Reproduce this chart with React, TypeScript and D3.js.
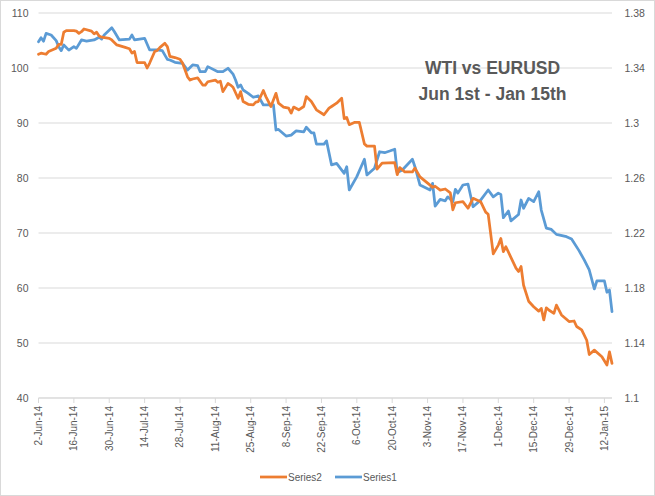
import * as d3 from 'd3';
import { useEffect, useRef } from 'react';

// WTI crude (left axis)
const wti: [string, number][] = [
  ['2014-06-02', 102.5], ['2014-06-03', 102.7], ['2014-06-05', 102.5], ['2014-06-06', 103.0],
  ['2014-06-09', 103.6], ['2014-06-10', 104.3], ['2014-06-11', 104.3], ['2014-06-12', 106.5],
  ['2014-06-13', 106.8], ['2014-06-16', 106.8], ['2014-06-17', 106.7], ['2014-06-18', 106.3],
  ['2014-06-19', 106.6], ['2014-06-20', 107.1], ['2014-06-23', 106.7], ['2014-06-24', 106.2],
  ['2014-06-25', 106.5], ['2014-06-26', 105.8], ['2014-06-27', 105.6], ['2014-06-30', 105.4],
  ['2014-07-01', 105.1], ['2014-07-03', 104.2], ['2014-07-06', 103.8], ['2014-07-08', 103.5],
  ['2014-07-09', 102.7], ['2014-07-10', 103.0], ['2014-07-11', 101.0], ['2014-07-14', 101.0],
  ['2014-07-15', 100.0], ['2014-07-16', 100.9], ['2014-07-18', 103.0], ['2014-07-19', 103.2],
  ['2014-07-20', 103.7], ['2014-07-22', 104.5], ['2014-07-23', 103.9], ['2014-07-24', 102.1],
  ['2014-07-26', 101.9], ['2014-07-28', 101.6], ['2014-07-29', 100.9], ['2014-07-31', 98.4],
  ['2014-08-01', 97.8], ['2014-08-02', 98.0], ['2014-08-04', 98.2], ['2014-08-06', 96.9],
  ['2014-08-07', 96.9], ['2014-08-08', 97.5], ['2014-08-11', 97.8], ['2014-08-12', 97.4],
  ['2014-08-13', 97.6], ['2014-08-14', 95.7], ['2014-08-16', 97.2], ['2014-08-17', 96.9],
  ['2014-08-18', 96.5], ['2014-08-20', 94.5], ['2014-08-21', 95.7], ['2014-08-22', 93.9],
  ['2014-08-24', 93.4], ['2014-08-26', 93.3], ['2014-08-27', 93.8], ['2014-08-28', 93.9],
  ['2014-08-30', 95.9], ['2014-08-31', 94.8], ['2014-09-02', 93.0], ['2014-09-04', 95.4],
  ['2014-09-05', 93.6], ['2014-09-07', 92.9], ['2014-09-09', 92.7], ['2014-09-10', 91.8],
  ['2014-09-11', 92.9], ['2014-09-13', 92.4], ['2014-09-15', 93.0], ['2014-09-16', 94.8],
  ['2014-09-18', 93.9], ['2014-09-20', 92.4], ['2014-09-23', 91.5], ['2014-09-25', 92.7],
  ['2014-09-26', 93.0], ['2014-09-28', 93.6], ['2014-09-30', 94.5], ['2014-10-01', 90.8],
  ['2014-10-02', 91.0], ['2014-10-03', 89.7], ['2014-10-05', 90.1], ['2014-10-07', 90.1],
  ['2014-10-09', 86.2], ['2014-10-10', 85.8], ['2014-10-13', 85.8], ['2014-10-14', 81.6],
  ['2014-10-16', 82.7], ['2014-10-21', 82.8], ['2014-10-22', 80.6], ['2014-10-23', 81.9],
  ['2014-10-25', 81.1], ['2014-10-28', 81.1], ['2014-10-29', 81.8], ['2014-10-31', 80.2],
  ['2014-11-04', 78.7], ['2014-11-05', 78.3], ['2014-11-06', 78.5], ['2014-11-08', 77.8],
  ['2014-11-10', 78.0], ['2014-11-12', 77.3], ['2014-11-13', 74.2], ['2014-11-14', 75.5],
  ['2014-11-17', 75.7], ['2014-11-19', 74.5], ['2014-11-21', 76.3], ['2014-11-24', 75.7],
  ['2014-11-26', 73.8], ['2014-11-27', 73.4], ['2014-11-29', 66.2], ['2014-12-01', 67.8],
  ['2014-12-02', 69.0], ['2014-12-03', 66.6], ['2014-12-04', 67.5], ['2014-12-08', 63.6],
  ['2014-12-09', 63.0], ['2014-12-10', 63.9], ['2014-12-11', 60.5], ['2014-12-13', 57.6],
  ['2014-12-15', 56.6], ['2014-12-17', 55.8], ['2014-12-18', 56.3], ['2014-12-19', 54.2],
  ['2014-12-20', 56.4], ['2014-12-21', 56.0], ['2014-12-23', 55.4], ['2014-12-24', 56.9],
  ['2014-12-26', 55.1], ['2014-12-29', 53.9], ['2014-12-31', 54.0], ['2015-01-01', 53.0],
  ['2015-01-03', 52.4], ['2015-01-05', 50.5], ['2015-01-06', 47.9], ['2015-01-08', 48.7],
  ['2015-01-11', 47.5], ['2015-01-13', 46.0], ['2015-01-14', 48.4], ['2015-01-15', 46.3],
];

// EURUSD (right axis)
const eurusd: [string, number][] = [
  ['2014-06-02', 1.3591], ['2014-06-03', 1.362], ['2014-06-04', 1.3595], ['2014-06-05', 1.3652],
  ['2014-06-07', 1.364], ['2014-06-09', 1.3599], ['2014-06-10', 1.3555], ['2014-06-11', 1.3526],
  ['2014-06-12', 1.3567], ['2014-06-14', 1.353], ['2014-06-16', 1.3555], ['2014-06-17', 1.3543],
  ['2014-06-19', 1.3604], ['2014-06-21', 1.3595], ['2014-06-24', 1.3604], ['2014-06-26', 1.3624],
  ['2014-06-27', 1.361], ['2014-06-28', 1.364], ['2014-07-01', 1.3693], ['2014-07-02', 1.3665],
  ['2014-07-04', 1.3604], ['2014-07-08', 1.361], ['2014-07-09', 1.364], ['2014-07-10', 1.3604],
  ['2014-07-14', 1.3616], ['2014-07-16', 1.3531], ['2014-07-19', 1.3531], ['2014-07-21', 1.3526],
  ['2014-07-23', 1.3463], ['2014-07-24', 1.3458], ['2014-07-26', 1.3441], ['2014-07-29', 1.3434],
  ['2014-07-31', 1.3385], ['2014-08-02', 1.3422], ['2014-08-04', 1.3417], ['2014-08-05', 1.3373],
  ['2014-08-07', 1.3373], ['2014-08-08', 1.341], ['2014-08-12', 1.3373], ['2014-08-14', 1.3373],
  ['2014-08-16', 1.3398], ['2014-08-18', 1.3356], ['2014-08-19', 1.3313], ['2014-08-20', 1.326],
  ['2014-08-21', 1.3277], ['2014-08-22', 1.324], ['2014-08-24', 1.3216], ['2014-08-26', 1.3187],
  ['2014-08-28', 1.3197], ['2014-08-30', 1.3131], ['2014-09-03', 1.3131], ['2014-09-04', 1.2949],
  ['2014-09-05', 1.2953], ['2014-09-08', 1.2905], ['2014-09-10', 1.2912], ['2014-09-12', 1.2943],
  ['2014-09-15', 1.2935], ['2014-09-16', 1.2969], ['2014-09-18', 1.2929], ['2014-09-19', 1.2929],
  ['2014-09-20', 1.2847], ['2014-09-23', 1.2847], ['2014-09-24', 1.287], ['2014-09-26', 1.2695],
  ['2014-09-28', 1.2706], ['2014-10-01', 1.2634], ['2014-10-02', 1.2682], ['2014-10-03', 1.2513],
  ['2014-10-06', 1.261], ['2014-10-09', 1.2736], ['2014-10-10', 1.2622], ['2014-10-13', 1.2671],
  ['2014-10-15', 1.2791], ['2014-10-17', 1.2784], ['2014-10-19', 1.2796], ['2014-10-21', 1.2809],
  ['2014-10-22', 1.2639], ['2014-10-24', 1.2658], ['2014-10-28', 1.2736], ['2014-10-29', 1.2682],
  ['2014-10-31', 1.2549], ['2014-11-04', 1.2513], ['2014-11-05', 1.2561], ['2014-11-06', 1.2396],
  ['2014-11-08', 1.2444], ['2014-11-10', 1.2434], ['2014-11-11', 1.2463], ['2014-11-13', 1.2427],
  ['2014-11-14', 1.2518], ['2014-11-15', 1.249], ['2014-11-17', 1.2549], ['2014-11-19', 1.2556],
  ['2014-11-21', 1.2391], ['2014-11-24', 1.2439], ['2014-11-27', 1.2513], ['2014-11-29', 1.2463],
  ['2014-12-01', 1.249], ['2014-12-02', 1.2481], ['2014-12-03', 1.2311], ['2014-12-05', 1.236],
  ['2014-12-06', 1.2288], ['2014-12-09', 1.2335], ['2014-12-10', 1.244], ['2014-12-11', 1.238],
  ['2014-12-13', 1.2452], ['2014-12-15', 1.2428], ['2014-12-17', 1.25], ['2014-12-18', 1.2367],
  ['2014-12-20', 1.2236], ['2014-12-22', 1.2226], ['2014-12-24', 1.219], ['2014-12-28', 1.2173],
  ['2014-12-30', 1.2156], ['2015-01-02', 1.207], ['2015-01-04', 1.2004], ['2015-01-06', 1.1931],
  ['2015-01-08', 1.1793], ['2015-01-09', 1.1851], ['2015-01-12', 1.1851], ['2015-01-13', 1.1769],
  ['2015-01-14', 1.1785], ['2015-01-15', 1.1628],
];

const leftTicks = [40, 50, 60, 70, 80, 90, 100, 110];
const rightTicks = [1.1, 1.14, 1.18, 1.22, 1.26, 1.3, 1.34, 1.38];
const titleLines = ['WTI vs EURUSD', 'Jun 1st - Jan 15th'];

export default function App() {
  const ref = useRef<SVGSVGElement | null>(null);

  useEffect(() => {
    document.body.style.margin = '0';
    if (!ref.current) return;
    const svg = d3.select(ref.current);
    svg.selectAll('*').remove();

    const width = 655;
    const height = 496;
    const left = 38.5, right = 612, top = 13, bottom = 398;
    const font = '"Liberation Sans", Arial, sans-serif';
    const textColor = '#595959';
    const gridColor = '#d9d9d9';

    const parse = d3.timeParse('%Y-%m-%d');
    const start = parse('2014-06-02')!;
    const end = parse('2015-01-15')!;

    const x = d3.scaleTime().domain([start, end]).range([left, right]);
    const yL = d3.scaleLinear().domain([40, 110]).range([bottom, top]);
    const yR = d3.scaleLinear().domain([1.1, 1.38]).range([bottom, top]);

    svg.attr('width', width).attr('height', height).attr('viewBox', `0 0 ${width} ${height}`);

    svg.append('rect')
      .attr('x', 0.5).attr('y', 0.5)
      .attr('width', width - 1).attr('height', height - 1)
      .attr('fill', '#fff').attr('stroke', gridColor);

    // Gridlines
    svg.append('g')
      .selectAll('line')
      .data(leftTicks)
      .enter()
      .append('line')
      .attr('x1', left).attr('x2', right)
      .attr('y1', (d) => yL(d)).attr('y2', (d) => yL(d))
      .attr('stroke', gridColor).attr('stroke-width', 1);

    // Left axis labels
    svg.append('g')
      .selectAll('text')
      .data(leftTicks)
      .enter()
      .append('text')
      .attr('x', 28.5).attr('y', (d) => yL(d))
      .attr('dy', '0.35em')
      .attr('text-anchor', 'end')
      .style('font-family', font).style('font-size', '10.5px').attr('fill', textColor)
      .text((d) => String(d));

    // Right axis labels
    svg.append('g')
      .selectAll('text')
      .data(rightTicks)
      .enter()
      .append('text')
      .attr('x', 624.5).attr('y', (d) => yR(d))
      .attr('dy', '0.35em')
      .attr('text-anchor', 'start')
      .style('font-family', font).style('font-size', '10.5px').attr('fill', textColor)
      .text((d) => String(+d.toFixed(2)));

    // Date axis
    const xTicks = d3.timeDay.range(start, d3.timeDay.offset(end, 1), 14);
    const fmt = d3.timeFormat('%-d-%b-%y');
    const xAxis = svg.append('g');
    xAxis.append('line')
      .attr('x1', left).attr('x2', right)
      .attr('y1', bottom).attr('y2', bottom)
      .attr('stroke', gridColor);
    xAxis.selectAll('line.tick')
      .data(xTicks)
      .enter()
      .append('line')
      .attr('class', 'tick')
      .attr('x1', (d) => x(d)).attr('x2', (d) => x(d))
      .attr('y1', bottom).attr('y2', bottom + 5)
      .attr('stroke', gridColor);
    xAxis.selectAll('text')
      .data(xTicks)
      .enter()
      .append('text')
      .attr('transform', (d) => `translate(${x(d)}, ${bottom + 8}) rotate(-90)`)
      .attr('dy', '0.35em')
      .attr('text-anchor', 'end')
      .style('font-family', font).style('font-size', '10px').attr('fill', textColor)
      .text((d) => fmt(d));

    // Lines
    const lineL = d3.line<[string, number]>()
      .x((d) => x(parse(d[0])!))
      .y((d) => yL(d[1]));
    const lineR = d3.line<[string, number]>()
      .x((d) => x(parse(d[0])!))
      .y((d) => yR(d[1]));

    svg.append('path')
      .datum(eurusd)
      .attr('d', lineR)
      .attr('fill', 'none').attr('stroke', '#5B9BD5')
      .attr('stroke-width', 2.75).attr('stroke-linejoin', 'round').attr('stroke-linecap', 'round');

    svg.append('path')
      .datum(wti)
      .attr('d', lineL)
      .attr('fill', 'none').attr('stroke', '#ED7D31')
      .attr('stroke-width', 2.75).attr('stroke-linejoin', 'round').attr('stroke-linecap', 'round');

    // Title
    svg.append('g')
      .selectAll('text')
      .data(titleLines)
      .enter()
      .append('text')
      .attr('x', 492.5).attr('y', (_, i) => 74 + i * 25.5)
      .attr('text-anchor', 'middle')
      .style('font-family', font).style('font-size', '17.5px').style('font-weight', 'bold')
      .attr('fill', textColor)
      .text((d) => d);

    // Legend
    const legendItems = [
      { name: 'Series2', color: '#ED7D31', x: 260 },
      { name: 'Series1', color: '#5B9BD5', x: 335 },
    ];
    const legend = svg.append('g').attr('transform', 'translate(0, 477)');
    legendItems.forEach((item) => {
      const g = legend.append('g').attr('transform', `translate(${item.x}, 0)`);
      g.append('line').attr('x1', 0).attr('x2', 27).attr('y1', 0).attr('y2', 0)
        .attr('stroke', item.color).attr('stroke-width', 2.75);
      g.append('text').attr('x', 28).attr('y', 0).attr('dy', '0.35em')
        .style('font-family', font).style('font-size', '10px').attr('fill', textColor)
        .text(item.name);
    });
  }, []);

  return (
    <div style={{ position: 'absolute', left: 0, top: 0 }}>
      <svg ref={ref} style={{ display: 'block' }} role="img" aria-label="WTI vs EURUSD chart" />
    </div>
  );
}
